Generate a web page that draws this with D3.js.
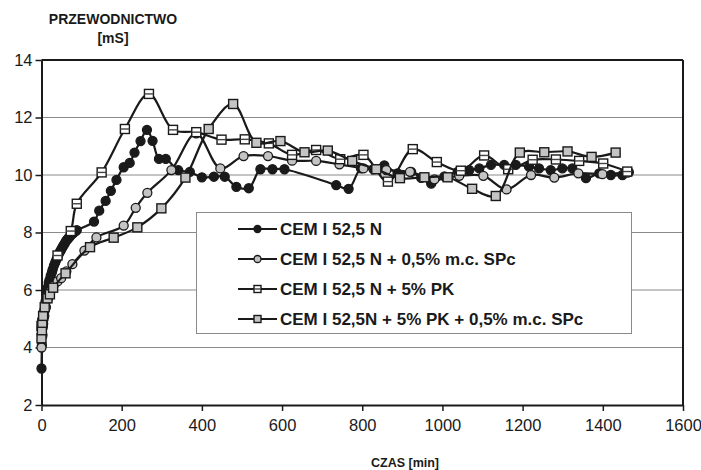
<!DOCTYPE html>
<html>
<head>
<meta charset="utf-8">
<script src="https://cdn.jsdelivr.net/npm/d3@7"></script>
<style>
  body { margin: 0; background: #fff; }
  svg { display: block; font-family: "Liberation Sans", Arial, sans-serif; }
</style>
</head>
<body>
<script>
// CEM I 52,5 N
const t1 = [0,1,2,3,4,5,6,7,9,10,12,14,16,18,20,23,26,28,31,34,37,40,43,46,49,52,55,58,61,64,67,70,73,76,79,82,85,88,131,144,160,173,187,205,220,232,247,263,277,293,310,341,370,400,430,457,486,517,546,576,606,735,766,797,828,855,888,922,947,972,1005,1038,1067,1092,1121,1154,1183,1216,1241,1270,1299,1324,1358,1391,1420,1449,1465]
const v1 = [3.27,4.08,4.45,4.7,4.85,5.0,5.15,5.3,5.45,5.6,5.8,5.95,6.1,6.25,6.35,6.5,6.62,6.72,6.85,6.95,7.05,7.15,7.25,7.33,7.4,7.48,7.55,7.62,7.7,7.75,7.8,7.85,7.9,7.95,7.98,8.02,8.05,8.08,8.38,8.76,9.1,9.45,9.83,10.27,10.42,10.78,11.18,11.57,11.19,10.56,10.56,10.17,10.11,9.92,9.94,9.94,9.59,9.54,10.2,10.2,10.2,9.65,9.52,10.23,10.2,10.33,10.06,10.11,9.9,9.7,9.95,10.11,10.17,10.23,10.35,10.35,10.35,10.29,10.23,10.17,10.23,10.23,9.89,10.06,10.0,10.0,10.1]

// CEM I 52,5 N + 0,5% m.c. SPc
const t2 = [0,2,4,7,11,16,22,30,40,49,62,77,107,137,205,235,264,324,386,446,504,565,625,685,743,803,860,919,980,1042,1102,1160,1221,1279,1339,1399,1461]
const v2 = [4.0,4.4,4.8,5.1,5.4,5.7,5.95,6.15,6.3,6.41,6.65,6.9,7.37,7.83,8.24,8.86,9.38,10.17,11.45,10.23,10.66,10.66,10.5,10.49,10.37,10.23,10.17,10.11,9.85,9.97,9.97,9.5,10.0,9.91,10.06,10.03,10.08]

// CEM I 52,5 N + 5% PK
const t3 = [0,40,73,88,150,208,268,328,386,449,507,567,625,685,745,803,864,926,986,1046,1104,1164,1225,1283,1341,1401,1461]
const v3 = [4.75,7.2,8.05,9.0,10.09,11.6,12.82,11.57,11.49,11.23,11.24,11.1,10.7,10.87,10.55,10.7,9.77,10.9,10.45,10.15,10.68,10.2,10.53,10.54,10.49,10.4,10.12]

// CEM I 52,5N + 5% PK + 0,5% m.c. SPc
const t4 = [0,1,2,4,8,15,21,29,60,121,180,239,299,359,417,478,536,596,656,714,775,835,894,955,1013,1074,1133,1193,1254,1312,1372,1432]
const v4 = [4.32,4.6,4.86,5.1,5.4,5.71,5.85,6.08,6.58,7.49,7.82,8.18,8.84,9.91,11.6,12.47,11.12,11.18,10.79,10.85,10.49,10.2,9.89,9.92,9.92,9.52,9.27,10.78,10.79,10.82,10.63,10.78]

const seriesNames = ['CEM I 52,5 N',
                     'CEM I 52,5 N + 0,5% m.c. SPc',
                     'CEM I 52,5 N + 5% PK',
                     'CEM I 52,5N + 5% PK + 0,5% m.c. SPc']
const markerTypes = ['dot','greyDot','openSquare','greySquare']
const xTicks = [0,200,400,600,800,1000,1200,1400,1600]
const yTicks = [2,4,6,8,10,12,14]

const series = [[t1,v1],[t2,v2],[t3,v3],[t4,v4]].map((s,i)=>({
  name: seriesNames[i],
  marker: markerTypes[i],
  points: s[0].map((t,j)=>({t:t, v:s[1][j]}))
}))

const W = 701, H = 470
const LEFT = 41.5, RIGHT = 683, TOP = 60, BOTTOM = 405

const svg = d3.select('body').append('svg')
  .attr('width', W).attr('height', H)

const x = d3.scaleLinear().domain([0,1600]).range([LEFT, RIGHT])
const y = d3.scaleLinear().domain([2,14]).range([BOTTOM, TOP])

// gridlines
svg.append('g').selectAll('line')
  .data(yTicks.filter(d=>d>2 && d<14))
  .enter().append('line')
  .attr('x1', LEFT).attr('x2', RIGHT)
  .attr('y1', d=>y(d)).attr('y2', d=>y(d))
  .attr('stroke', '#8a8a8a').attr('stroke-width', 1)

// frame top + right
svg.append('line').attr('x1', LEFT).attr('x2', RIGHT).attr('y1', TOP).attr('y2', TOP)
  .attr('stroke', '#1a1a1a').attr('stroke-width', 2)
svg.append('line').attr('x1', RIGHT).attr('x2', RIGHT).attr('y1', TOP).attr('y2', BOTTOM)
  .attr('stroke', '#1a1a1a').attr('stroke-width', 2)

// axes
const xAxis = svg.append('g')
  .attr('transform', `translate(0,${BOTTOM})`)
  .call(d3.axisBottom(x).tickValues(xTicks).tickFormat(d3.format('d'))
    .tickSizeInner(6).tickSizeOuter(0).tickPadding(8))
const yAxis = svg.append('g')
  .attr('transform', `translate(${LEFT},0)`)
  .call(d3.axisLeft(y).tickValues(yTicks).tickFormat(d3.format('d'))
    .tickSizeInner(6).tickSizeOuter(0).tickPadding(4))

;[xAxis, yAxis].forEach(ax=>{
  ax.select('.domain').attr('stroke', '#1a1a1a').attr('stroke-width', 2)
  ax.selectAll('.tick line').attr('stroke', '#1a1a1a').attr('stroke-width', 1.5)
  ax.selectAll('.tick text')
    .attr('fill', '#1a1a1a')
    .style('font-size', '16.5px')
    .style('font-family', '"Liberation Sans", Arial, sans-serif')
})
yAxis.selectAll('.tick text').attr('x', -9)

// series
const line = d3.line()
  .x(d=>x(d.t)).y(d=>y(d.v))
  .curve(d3.curveCatmullRom.alpha(0.5))

function drawMarker(g, type, size){
  const s = size
  if (type === 'dot' || type === 'greyDot'){
    g.append('circle').attr('r', s/2)
      .attr('fill', type === 'dot' ? '#1a1a1a' : '#c4c4c4')
      .attr('stroke', '#1a1a1a').attr('stroke-width', 1.3)
  } else {
    g.append('rect').attr('x', -s/2).attr('y', -s/2).attr('width', s).attr('height', s)
      .attr('fill', type === 'openSquare' ? '#fff' : '#c4c4c4')
      .attr('stroke', '#1a1a1a').attr('stroke-width', 1.4)
    if (type === 'openSquare'){
      g.append('line').attr('x1', -s/2).attr('x2', s/2).attr('y1', 0).attr('y2', 0)
        .attr('stroke', '#444').attr('stroke-width', 1.4)
    }
  }
}

series.forEach(s=>{
  const g = svg.append('g')
  g.append('path').datum(s.points)
    .attr('d', line)
    .attr('fill', 'none')
    .attr('stroke', '#1a1a1a')
    .attr('stroke-width', 2.2)
  g.selectAll('g.mk').data(s.points).enter().append('g')
    .attr('class', 'mk')
    .attr('transform', d=>`translate(${x(d.t)},${y(d.v)})`)
    .each(function(){ drawMarker(d3.select(this), s.marker, 9) })
})

// legend
const legend = svg.append('g')
legend.append('rect')
  .attr('x', 196.5).attr('y', 212.5).attr('width', 435).attr('height', 121)
  .attr('fill', '#fff').attr('stroke', '#8a8a8a').attr('stroke-width', 1)

const rows = legend.selectAll('g.row').data(series).enter().append('g')
  .attr('class', 'row')
  .attr('transform', (d,i)=>`translate(0,${229 + i*30})`)
rows.append('line').attr('x1', 238).attr('x2', 277).attr('y1', 0).attr('y2', 0)
  .attr('stroke', '#1a1a1a').attr('stroke-width', 2.2)
rows.append('g').attr('transform', 'translate(257.5,0)')
  .each(function(d){ drawMarker(d3.select(this), d.marker, 7) })
rows.append('text')
  .attr('x', 280).attr('y', 6)
  .style('font-size', '17px').style('font-weight', 'bold')
  .attr('fill', '#1a1a1a')
  .text(d=>d.name)

// axis titles
svg.append('text').attr('x', 113).attr('y', 24)
  .attr('text-anchor', 'middle')
  .style('font-size', '14px').style('font-weight', 'bold').attr('fill', '#1a1a1a')
  .text('PRZEWODNICTWO')
svg.append('text').attr('x', 113).attr('y', 43)
  .attr('text-anchor', 'middle')
  .style('font-size', '14px').style('font-weight', 'bold').attr('fill', '#1a1a1a')
  .text('[mS]')
svg.append('text').attr('x', 405).attr('y', 467)
  .attr('text-anchor', 'middle')
  .style('font-size', '12.5px').style('font-weight', 'bold').attr('fill', '#1a1a1a')
  .text('CZAS [min]')
</script>
</body>
</html>
